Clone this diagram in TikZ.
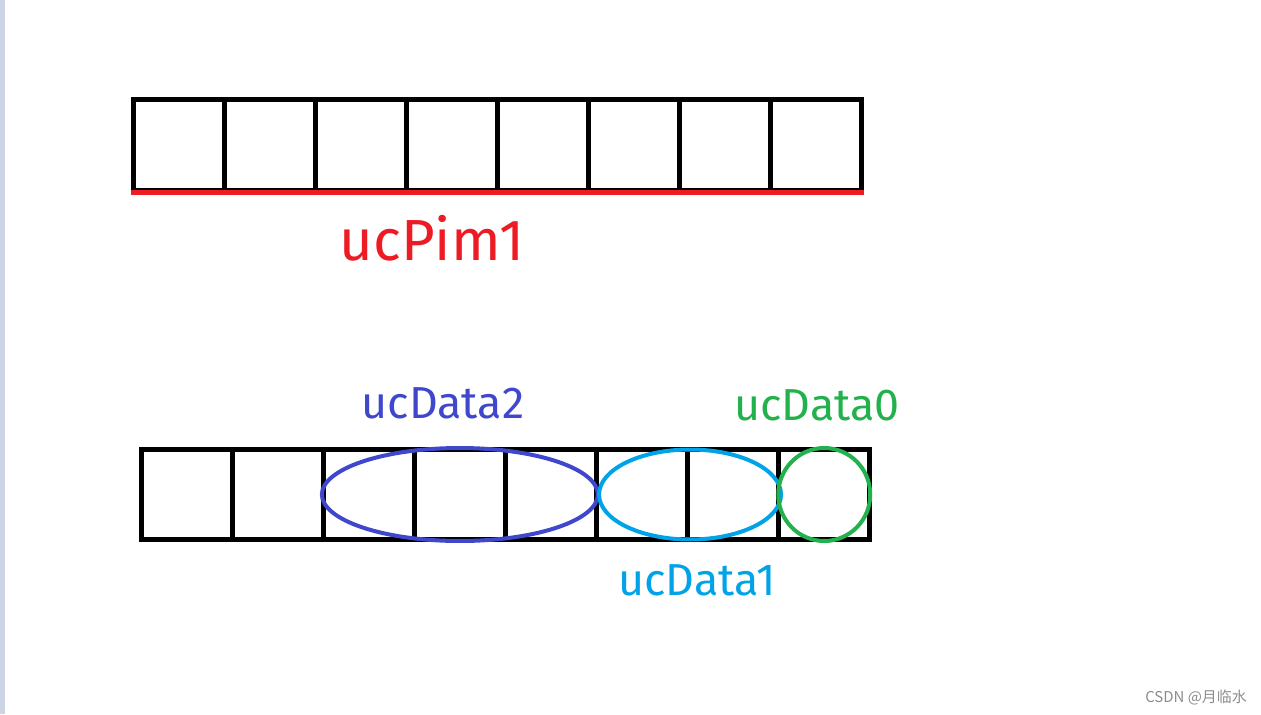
\documentclass[tikz,border=0pt]{standalone}
\usepackage{fontspec}
\setmainfont{Fira Sans}
\newfontfamily\cjk{Noto Sans CJK SC}
\usetikzlibrary{shapes,positioning}
\definecolor{pimred}{HTML}{ED1C24}
\definecolor{dataindigo}{HTML}{3F48CC}
\definecolor{datacyan}{HTML}{00A2E8}
\definecolor{datagreen}{HTML}{22B14C}
\definecolor{stripgray}{HTML}{CBD5E6}

\begin{document}
\begin{tikzpicture}[x=0.02cm, y=-0.02cm,
    cellbox/.style={rectangle, draw, line width=0.1cm, minimum width=1.82cm, minimum height=1.81cm, inner sep=0pt},
    loop/.style={ellipse, draw, line width=0.08cm, inner sep=0pt},
    biglabel/.style={font=\fontsize{33}{36}\selectfont, inner sep=0pt},
    datalabel/.style={font=\fontsize{25.5}{28}\selectfont, inner sep=0pt}]
    \useasboundingbox (0,0) rectangle (1261,714);
    \fill[stripgray] (0,0) rectangle (5,714);

    % ucPim1 as eight bytes
    \foreach \i in {1,...,8}
        \node[cellbox] (top\i) at ({134+90.9*(\i-0.5)}, 145) {};
    \draw[pimred, line width=0.1cm] (top1.south west) -- (top8.south east);
    \node[biglabel, text=pimred] (pim) at (432, 238) {ucPim1};

    % the same bytes split in fields
    \foreach \i in {1,...,8}
        \node[cellbox] (bot\i) at ({141+91.1*(\i-0.5)}, 494.5) {};
    \node[loop, draw=dataindigo, minimum width=5.52cm, minimum height=1.86cm] (data2) at (bot4) {};
    \node[loop, draw=datacyan, minimum width=3.64cm, minimum height=1.8cm] (data1) at (bot6.east) {};
    \node[loop, draw=datagreen, minimum width=1.84cm, minimum height=1.86cm] (data0) at (bot8) {};
    \node[datalabel, text=dataindigo] (lab2) at (443, 403) {ucData2};
    \node[datalabel, text=datagreen] (lab0) at (817, 405) {ucData0};
    \node[datalabel, text=datacyan] (lab1) at (697, 580) {ucData1};

    % watermark
    \node[font=\cjk\fontsize{8.5}{10}\selectfont, text=black!45, inner sep=0pt] (mark) at (1196, 697) {CSDN @月临水};
\end{tikzpicture}
\end{document}
